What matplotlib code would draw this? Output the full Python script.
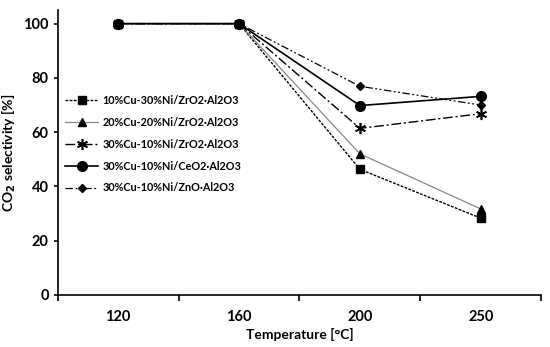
import matplotlib
matplotlib.use("Agg")
import matplotlib.pyplot as plt

plt.rcParams['font.family'] = ['Lato', 'DejaVu Sans']
plt.rcParams['font.weight'] = 'bold'

temps = ['120', '160', '200', '250']
labels = ['10%Cu-30%Ni/ZrO2\u00b7Al2O3', '20%Cu-20%Ni/ZrO2\u00b7Al2O3', '30%Cu-10%Ni/ZrO2\u00b7Al2O3',
          '30%Cu-10%Ni/CeO2\u00b7Al2O3', '30%Cu-10%Ni/ZnO\u00b7Al2O3']
sel_a = [100, 100, 46.3, 28.3]
sel_b = [100, 100, 52.0, 31.7]
sel_c = [100, 100, 61.4, 66.8]
sel_d = [100, 100, 69.8, 73.2]
sel_e = [100, 100, 76.9, 70.0]

styles = [
    dict(marker='s', ls=(0, (2, 1)), color='black', lw=1.0, ms=6),
    dict(marker='^', ls='-', color='#888888', lw=0.9, ms=6, mfc='black', mec='black'),
    dict(marker=(6, 2, 0), ls=(0, (7, 2, 1.5, 2)), color='black', lw=1.0, ms=8, mew=1.2),
    dict(marker='o', ls='-', color='black', lw=1.2, ms=7),
    dict(marker='D', ls=(0, (6, 2, 1.5, 2, 1.5, 2)), color='black', lw=0.9, ms=4),
]

fig = plt.figure(figsize=(5.5, 3.47), dpi=100)
ax = fig.add_axes([0.105, 0.150, 0.879, 0.821])
x = [i + 0.5 for i in range(len(temps))]
for data, lab, st in zip([sel_a, sel_b, sel_c, sel_d, sel_e], labels, styles):
    ax.plot(x, data, label=lab, **st)

ax.set_xlim(0, 4)
ax.set_ylim(0, 105)
ax.set_xticks(range(5))
ax.set_xticklabels([])
ax.set_xticks(x, minor=True)
ax.set_xticklabels(temps, minor=True)
ax.tick_params(axis='x', which='minor', length=0, pad=11, labelsize=10.5)
ax.tick_params(axis='x', which='major', length=4, direction='out', width=1.2)
ax.set_yticks([0, 20, 40, 60, 80, 100])
ax.tick_params(axis='y', length=3, width=1.2, labelsize=10.5)
ax.spines['top'].set_visible(False)
ax.spines['right'].set_visible(False)
ax.spines['left'].set_linewidth(1.2)
ax.spines['bottom'].set_linewidth(1.2)
ax.set_xlabel('Temperature [°C]', fontsize=10, fontweight='bold', labelpad=3)
ax.set_ylabel('CO$_\\mathbf{2}$ selectivity [%]', fontsize=10, fontweight='bold')
leg = ax.legend(loc='upper left', bbox_to_anchor=(0.0, 0.728), frameon=False, fontsize=7.8,
                handlelength=3, labelspacing=1.0, handletextpad=0.4, borderaxespad=0.3)

fig.savefig('out.png', dpi=100)
